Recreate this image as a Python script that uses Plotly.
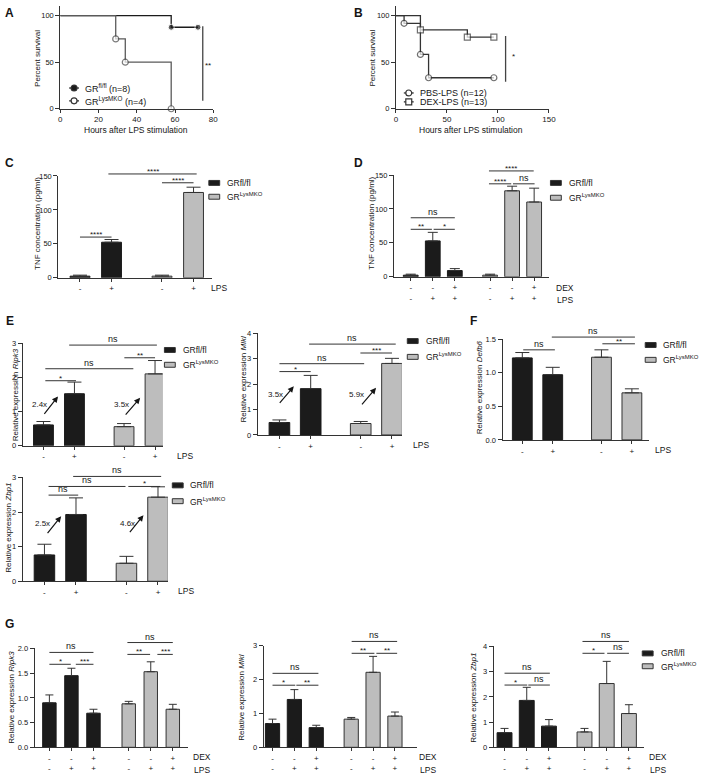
import plotly.graph_objects as go

W, H = 708, 779
FONT = "Liberation Sans, Arial, sans-serif"
INK = "#151515"
AXC = "#333333"
BLACK = "#1b1b1b"
GRAY = "#bdbdbd"

# ======================= DATA =======================
# Panel A - survival after LPS
A_fl_t = [0, 58, 72]
A_fl_s = [100, 87.5, 87.5]
A_ko_t = [0, 29, 34, 58]
A_ko_s = [100, 75, 50, 0]
A_labels = ["GR<sup>fl/fl</sup> (n=8)", "GR<sup>LysMKO</sup> (n=4)"]
A_xticks = [0, 20, 40, 60, 80]
A_yticks = [0, 50, 100]
A_sig = "**"

# Panel B - survival PBS vs DEX
B_pbs_t = [0, 8, 24, 32, 96]
B_pbs_s = [100, 91.7, 58.3, 33.3, 33.3]
B_dex_t = [0, 24, 70, 96]
B_dex_s = [100, 84.6, 76.9, 76.9]
B_labels = ["PBS-LPS (n=12)", "DEX-LPS (n=13)"]
B_xticks = [0, 50, 100, 150]
B_yticks = [0, 50, 100]
B_sig = "*"

GROUPS = ["GRfl/fl", "GR<sup>LysMKO</sup>"]
LPS2 = ["-", "+"]
DEX3 = ["-", "-", "+"]
LPS3 = ["-", "+", "+"]

# Panel C - TNF (pg/ml)
C_fl, C_fl_err = [2.4, 52.4], [1.5, 4.0]
C_ko, C_ko_err = [2.4, 125.7], [1.5, 7.8]
# Panel D - TNF with DEX
D_fl, D_fl_err = [2.4, 52.9, 9.2], [1.5, 12.6, 2.9]
D_ko, D_ko_err = [2.4, 126.7, 110.2], [1.5, 6.8, 20.4]
TNF_ticks = [0, 50, 100, 150]
# Panel E - Ripk3
E1_fl, E1_fl_err = [0.61, 1.52], [0.10, 0.34]
E1_ko, E1_ko_err = [0.56, 2.10], [0.09, 0.39]
E1_fold = ["2.4x", "3.5x"]
# Panel E - Mlkl
E2_fl, E2_fl_err = [0.49, 1.82], [0.10, 0.52]
E2_ko, E2_ko_err = [0.45, 2.81], [0.08, 0.20]
E2_fold = ["3.5x", "5.9x"]
# Panel F - Defb6
F_fl, F_fl_err = [1.22, 0.97], [0.08, 0.11]
F_ko, F_ko_err = [1.23, 0.70], [0.11, 0.06]
# Panel E - Zbp1
E3_fl, E3_fl_err = [0.76, 1.93], [0.31, 0.48]
E3_ko, E3_ko_err = [0.52, 2.43], [0.20, 0.30]
E3_fold = ["2.5x", "4.6x"]
# Panel G - Ripk3 / Mlkl / Zbp1 with DEX
G1_fl, G1_fl_err = [0.90, 1.45, 0.69], [0.16, 0.15, 0.08]
G1_ko, G1_ko_err = [0.88, 1.53, 0.77], [0.05, 0.20, 0.10]
G2_fl, G2_fl_err = [0.70, 1.41, 0.58], [0.13, 0.29, 0.07]
G2_ko, G2_ko_err = [0.83, 2.21, 0.92], [0.05, 0.47, 0.12]
G3_fl, G3_fl_err = [0.58, 1.86, 0.84], [0.17, 0.52, 0.26]
G3_ko, G3_ko_err = [0.61, 2.53, 1.34], [0.14, 0.88, 0.35]

# ======================= DRAWING =======================
fig = go.Figure()
axes = {}
shapes = []
annots = []


class Panel:
    count = 0

    def __init__(self, xpx, ypx, yr, xr=None, b0=None, b1=None, last=None):
        Panel.count += 1
        s = "" if Panel.count == 1 else str(Panel.count)
        self.s = s
        self.xid, self.yid = "x" + s, "y" + s
        self.xdom = [xpx[0] / W, xpx[1] / W]
        self.ydom = [1 - ypx[1] / H, 1 - ypx[0] / H]
        if xr is None:
            unit = (b1 - b0) / last
            xr = [(xpx[0] - b0) / unit, (xpx[1] - b0) / unit]
        self.xr, self.yr = xr, yr

    def yp(self, v):
        return self.ydom[0] + (v - self.yr[0]) / (self.yr[1] - self.yr[0]) * (self.ydom[1] - self.ydom[0])


def base_axis():
    return dict(showline=True, linecolor=AXC, linewidth=1, ticks="outside", tickcolor=AXC,
                tickwidth=1, showgrid=False, zeroline=False, fixedrange=True,
                tickfont=dict(family=FONT, size=7.5, color=INK))


def setup(p, xvals, xtext, yvals, yfmt=None, xfont=8):
    xa = base_axis()
    xa.update(domain=p.xdom, range=p.xr, anchor=p.yid, tickmode="array",
              tickvals=xvals, ticktext=xtext, ticklen=3)
    if xfont:
        xa["tickfont"] = dict(family=FONT, size=xfont, color=INK)
    ya = base_axis()
    ya.update(domain=p.ydom, range=p.yr, anchor=p.xid, tickmode="array", tickvals=yvals, ticklen=4)
    if yfmt:
        ya["tickformat"] = yfmt
    axes["xaxis" + p.s] = xa
    axes["yaxis" + p.s] = ya


def txt(t, x, y, size=8, xanchor="center", yanchor="middle", angle=0, bold=False):
    if bold:
        t = "<b>" + t + "</b>"
    annots.append(dict(text=t, x=x / W, y=1 - y / H, xref="paper", yref="paper", showarrow=False,
                       xanchor=xanchor, yanchor=yanchor, textangle=angle,
                       font=dict(family=FONT, size=size, color=INK)))


def sig(p, x0, x1, v, label):
    y = p.yp(v)
    shapes.append(dict(type="line", xref=p.xid, yref="paper", x0=x0, x1=x1, y0=y, y1=y,
                       line=dict(color=AXC, width=1)))
    ns = label == "ns"
    annots.append(dict(text=label, xref=p.xid, yref="paper", x=(x0 + x1) / 2, y=y, showarrow=False,
                       xanchor="center", yanchor="bottom", yshift=(-1 if ns else -4),
                       font=dict(family=FONT, size=(9 if ns else 8), color=INK)))


def fold(p, label, tail, head, tpos):
    annots.append(dict(text="", x=head[0], y=head[1], xref=p.xid, yref=p.yid,
                       ax=tail[0], ay=tail[1], axref=p.xid, ayref=p.yid, showarrow=True,
                       arrowhead=2, arrowsize=1, arrowwidth=1.2, arrowcolor=INK, standoff=0))
    annots.append(dict(text=label, x=tpos[0], y=tpos[1], xref=p.xid, yref=p.yid, showarrow=False,
                       font=dict(family=FONT, size=8, color=INK)))


def bar_legend(x, y1, y2, tx):
    for yy, col, lab in [(y1, BLACK, GROUPS[0]), (y2, GRAY, GROUPS[1])]:
        shapes.append(dict(type="rect", xref="paper", yref="paper",
                           x0=(x - 5.5) / W, x1=(x + 5.5) / W, y0=1 - (yy + 2.5) / H, y1=1 - (yy - 2.5) / H,
                           fillcolor=col, line=dict(color=AXC, width=1)))
        txt(lab, tx, yy, size=8.5, xanchor="left")


def bars(p, fl, fl_err, ko, ko_err, width, cap):
    n = len(fl)
    pos_fl = [i for i in range(n)]
    pos_ko = [n + 0.6 + i for i in range(n)]
    for pos, vals, err, col in [(pos_fl, fl, fl_err, BLACK), (pos_ko, ko, ko_err, GRAY)]:
        fig.add_trace(go.Bar(x=pos, y=vals, width=width, xaxis=p.xid, yaxis=p.yid,
                             marker=dict(color=col, line=dict(color=AXC if col == GRAY else BLACK, width=1)),
                             error_y=dict(type="data", array=err, arrayminus=[0] * n, symmetric=False,
                                          color=AXC, thickness=1, width=cap),
                             cliponaxis=False, showlegend=False, hoverinfo="skip"))
    return pos_fl + pos_ko


# ---------- A ----------
pA = Panel((59, 214), (2.3, 106), [0, 110], xr=[0, 80])
setup(pA, A_xticks, [str(v) for v in A_xticks], A_yticks)
fig.add_trace(go.Scatter(x=A_fl_t, y=A_fl_s, mode="lines+markers", xaxis=pA.xid, yaxis=pA.yid,
                         line=dict(shape="hv", color=BLACK, width=1.3),
                         marker=dict(size=[0] + [6] * (len(A_fl_t) - 1), color=BLACK),
                         cliponaxis=False, showlegend=False))
fig.add_trace(go.Scatter(x=A_ko_t, y=A_ko_s, mode="lines+markers", xaxis=pA.xid, yaxis=pA.yid,
                         line=dict(shape="hv", color="#5a5a5a", width=1.3),
                         marker=dict(size=[0] + [6] * (len(A_ko_t) - 1), color="white",
                                     line=dict(color="#444", width=1.2)),
                         cliponaxis=False, showlegend=False))
shapes.append(dict(type="line", xref=pA.xid, yref=pA.yid, x0=74.5, x1=74.5, y0=8.5, y1=88.5,
                   line=dict(color="#444", width=1.3)))
annots.append(dict(text=A_sig, x=77.2, y=46, xref=pA.xid, yref=pA.yid, showarrow=False,
                   font=dict(family=FONT, size=8, color=INK)))
txt("Percent survival", 36, 55, angle=-90)
txt("Hours after LPS stimulation", 136, 127, size=8.5)
# legend A
for yy, lab, filled in [(85, A_labels[0], True), (98, A_labels[1], False)]:
    shapes.append(dict(type="line", xref="paper", yref="paper", x0=68 / W, x1=78 / W,
                       y0=1 - yy / H, y1=1 - yy / H, line=dict(color="#333", width=1.3)))
    shapes.append(dict(type="circle", xref="paper", yref="paper", x0=70 / W, x1=76 / W,
                       y0=1 - (yy + 3) / H, y1=1 - (yy - 3) / H,
                       fillcolor=BLACK if filled else "white", line=dict(color="#333", width=1.2)))
    txt(lab, 82, yy, size=9, xanchor="left")

# ---------- B ----------
pB = Panel((399, 554), (2.3, 106), [0, 110], xr=[0, 150])
setup(pB, B_xticks, [str(v) for v in B_xticks], B_yticks)
fig.add_trace(go.Scatter(x=B_pbs_t, y=B_pbs_s, mode="lines+markers", xaxis=pB.xid, yaxis=pB.yid,
                         line=dict(shape="hv", color="#333", width=1.3),
                         marker=dict(size=[0] + [6] * (len(B_pbs_t) - 1), color="white",
                                     line=dict(color="#333", width=1.2)),
                         cliponaxis=False, showlegend=False))
fig.add_trace(go.Scatter(x=B_dex_t, y=B_dex_s, mode="lines+markers", xaxis=pB.xid, yaxis=pB.yid,
                         line=dict(shape="hv", color="#333", width=1.3),
                         marker=dict(symbol="square", size=[0] + [6] * (len(B_dex_t) - 1), color="white",
                                     line=dict(color="#333", width=1.2)),
                         cliponaxis=False, showlegend=False))
shapes.append(dict(type="line", xref=pB.xid, yref=pB.yid, x0=107.5, x1=107.5, y0=29, y1=78,
                   line=dict(color="#444", width=1.3)))
annots.append(dict(text=B_sig, x=115, y=56, xref=pB.xid, yref=pB.yid, showarrow=False,
                   font=dict(family=FONT, size=8, color=INK)))
txt("Percent survival", 375, 55, angle=-90)
txt("Hours after LPS stimulation", 475, 127, size=8.5)
for yy, lab, sym in [(90, B_labels[0], "circle"), (99, B_labels[1], "rect")]:
    shapes.append(dict(type="line", xref="paper", yref="paper", x0=407 / W, x1=417 / W,
                       y0=1 - yy / H, y1=1 - yy / H, line=dict(color="#333", width=1.3)))
    shapes.append(dict(type=sym, xref="paper", yref="paper", x0=409 / W, x1=415 / W,
                       y0=1 - (yy + 3) / H, y1=1 - (yy - 3) / H,
                       fillcolor="white", line=dict(color="#333", width=1.2)))
    txt(lab, 421, yy, size=9, xanchor="left")

# ---------- C ----------
pC = Panel((57, 213), (174, 277), [0, 150], b0=79, b1=194, last=3.6)
pos = bars(pC, C_fl, C_fl_err, C_ko, C_ko_err, 0.63, 7)
setup(pC, pos, LPS2 * 2, TNF_ticks)
for a in [(0, 1, 60, "****"), (2.6, 3.6, 140, "****"), (0.9, 3.7, 153, "****")]:
    sig(pC, *a)
txt("TNF concentration (pg/ml)", 36, 222, angle=-90)
txt("LPS", 220, 287, size=8.5)
bar_legend(215, 181, 195, 226)

# ---------- D ----------
pD = Panel((397, 554), (173, 276), [0, 150], b0=414, b1=539, last=5.6)
pos = bars(pD, D_fl, D_fl_err, D_ko, D_ko_err, 0.67, 5)
setup(pD, pos, [d + "<br>" + l for d, l in zip(DEX3, LPS3)] * 2, TNF_ticks)
for a in [(0, 0.96, 70, "**"), (1.04, 2, 70, "*"), (0, 2, 87, "ns"),
          (3.55, 4.56, 137, "****"), (4.64, 5.62, 137, "ns"), (3.55, 5.58, 156, "****")]:
    sig(pD, *a)
txt("TNF concentration (pg/ml)", 374, 222, angle=-90)
txt("DEX", 570, 287, size=8.5)
txt("LPS", 570, 299, size=8.5)
bar_legend(561, 181, 196, 572)

# ---------- E Ripk3 ----------
pE1 = Panel((21, 163), (343, 447), [0, 3], b0=42, b1=155, last=3.6)
pos = bars(pE1, E1_fl, E1_fl_err, E1_ko, E1_ko_err, 0.64, 7)
setup(pE1, pos, LPS2 * 2, [0, 1, 2, 3])
for a in [(0.06, 1.05, 1.90, "*"), (0.06, 2.9, 2.25, "ns"), (2.61, 3.6, 2.57, "**"), (0.83, 3.66, 2.94, "ns")]:
    sig(pE1, *a)
fold(pE1, E1_fold[0], (-0.01, 0.89), (0.47, 1.44), (-0.14, 1.21))
fold(pE1, E1_fold[1], (2.61, 0.87), (3.12, 1.40), (2.51, 1.21))
txt("Relative expression <i>Ripk3</i>", 14, 395, angle=-90)
txt("LPS", 185, 457, size=8.5)
bar_legend(170, 350, 365, 181)

# ---------- E Mlkl ----------
pE2 = Panel((259, 405), (333, 436), [0, 4], b0=281, b1=395, last=3.6)
pos = bars(pE2, E2_fl, E2_fl_err, E2_ko, E2_ko_err, 0.66, 7)
setup(pE2, pos, LPS2 * 2, [0, 1, 2, 3, 4])
for a in [(0, 1, 2.49, "*"), (0, 2.71, 2.80, "ns"), (2.59, 3.6, 3.22, "***"), (0.95, 3.72, 3.57, "ns")]:
    sig(pE2, *a)
fold(pE2, E2_fold[0], (-0.03, 1.20), (0.46, 1.91), (-0.13, 1.59))
fold(pE2, E2_fold[1], (2.60, 1.14), (3.09, 1.85), (2.48, 1.59))
txt("Relative expression <i>Mlkl</i>", 245, 380, angle=-90)
txt("LPS", 424, 446, size=8.5)
bar_legend(416, 341, 357, 427)

# ---------- F Defb6 ----------
pF = Panel((507, 655), (339, 441), [0, 1.5], b0=527, b1=638, last=3.6)
pos = bars(pF, F_fl, F_fl_err, F_ko, F_ko_err, 0.65, 7)
setup(pF, pos, LPS2 * 2, [0, 0.5, 1.0, 1.5], yfmt=".1f")
for a in [(0.03, 1.07, 1.34, "ns"), (2.63, 3.7, 1.43, "**"), (0.97, 3.7, 1.53, "ns")]:
    sig(pF, *a)
txt("Relative expression <i>Defb6</i>", 484, 388, angle=-90)
txt("LPS", 670, 451, size=8.5)
bar_legend(657, 345, 360, 667)

# ---------- E Zbp1 ----------
pE3 = Panel((21, 168), (479, 584), [0, 3], b0=43, b1=158, last=3.6)
pos = bars(pE3, E3_fl, E3_fl_err, E3_ko, E3_ko_err, 0.65, 7)
setup(pE3, pos, LPS2 * 2, [0, 1, 2, 3])
for a in [(0.13, 1.07, 2.49, "ns"), (0.13, 2.57, 2.74, "ns"), (2.66, 3.67, 2.74, "*"), (0.91, 3.7, 3.03, "ns")]:
    sig(pE3, *a)
fold(pE3, E3_fold[0], (0.06, 1.35), (0.53, 1.88), (-0.06, 1.66))
fold(pE3, E3_fold[1], (2.67, 1.38), (3.14, 1.91), (2.62, 1.66))
txt("Relative expression <i>Zbp1</i>", 7, 530, angle=-90)
txt("LPS", 186, 594, size=8.5)
bar_legend(178, 487, 503, 188)

# ---------- G ----------
g_text = [d + "<br>" + l for d, l in zip(DEX3, LPS3)] * 2
pG1 = Panel((33, 188), (652, 752), [0, 2], b0=48, b1=173, last=5.6)
pos = bars(pG1, G1_fl, G1_fl_err, G1_ko, G1_ko_err, 0.61, 4)
setup(pG1, pos, g_text, [0, 0.5, 1.0, 1.5, 2.0], yfmt=".1f")
for a in [(0, 0.97, 1.68, "*"), (1.2, 2, 1.68, "***"), (0, 2, 1.92, "ns"),
          (3.54, 4.57, 1.88, "**"), (4.9, 5.6, 1.88, "***"), (3.54, 5.6, 2.12, "ns")]:
    sig(pG1, *a)
txt("Relative expression <i>Ripk3</i>", 10, 701, angle=-90)
txt("DEX", 203, 762, size=8.5)
txt("LPS", 203, 775, size=8.5)

pG2 = Panel((265, 420), (649, 752), [0, 3], b0=274, b1=398, last=5.6)
pos = bars(pG2, G2_fl, G2_fl_err, G2_ko, G2_ko_err, 0.65, 4)
setup(pG2, pos, g_text, [0, 1, 2, 3])
for a in [(0, 1.04, 1.83, "*"), (1.09, 2.1, 1.83, "**"), (0, 2.1, 2.18, "ns"),
          (3.62, 4.66, 2.77, "**"), (4.75, 5.7, 2.77, "**"), (3.62, 5.7, 3.12, "ns")]:
    sig(pG2, *a)
txt("Relative expression <i>Mlkl</i>", 243, 702, angle=-90)
txt("DEX", 431, 762, size=8.5)
txt("LPS", 431, 775, size=8.5)

pG3 = Panel((498, 650), (650, 752), [0, 4], b0=509, b1=635, last=5.6)
pos = bars(pG3, G3_fl, G3_fl_err, G3_ko, G3_ko_err, 0.67, 4)
setup(pG3, pos, g_text, [0, 1, 2, 3, 4])
for a in [(0, 1.02, 2.47, "*"), (1.07, 2.04, 2.47, "ns"), (0, 2.04, 2.94, "ns"),
          (3.51, 4.5, 3.73, "*"), (4.62, 5.6, 3.73, "ns"), (3.51, 5.6, 4.2, "ns")]:
    sig(pG3, *a)
txt("Relative expression <i>Zbp1</i>", 478, 702, angle=-90)
txt("DEX", 664, 762, size=8.5)
txt("LPS", 664, 775, size=8.5)
bar_legend(654, 657, 670, 665)

# ---------- panel letters ----------
for lab, x, y in [("A", 8, 9), ("B", 361, 9), ("C", 8, 161), ("D", 361, 161),
                  ("E", 8, 321), ("F", 478, 321), ("G", 8, 627)]:
    txt(lab, x, y, size=12, bold=True)

fig.update_layout(width=W, height=H, margin=dict(l=0, r=0, t=0, b=0),
                  plot_bgcolor="white", paper_bgcolor="white", showlegend=False,
                  font=dict(family=FONT, color=INK), shapes=shapes, annotations=annots,
                  barmode="overlay", **axes)
fig.write_html("out.html", config={"displayModeBar": False, "staticPlot": True},
               post_script="document.body.style.margin='0px';document.body.style.overflow='hidden';")
